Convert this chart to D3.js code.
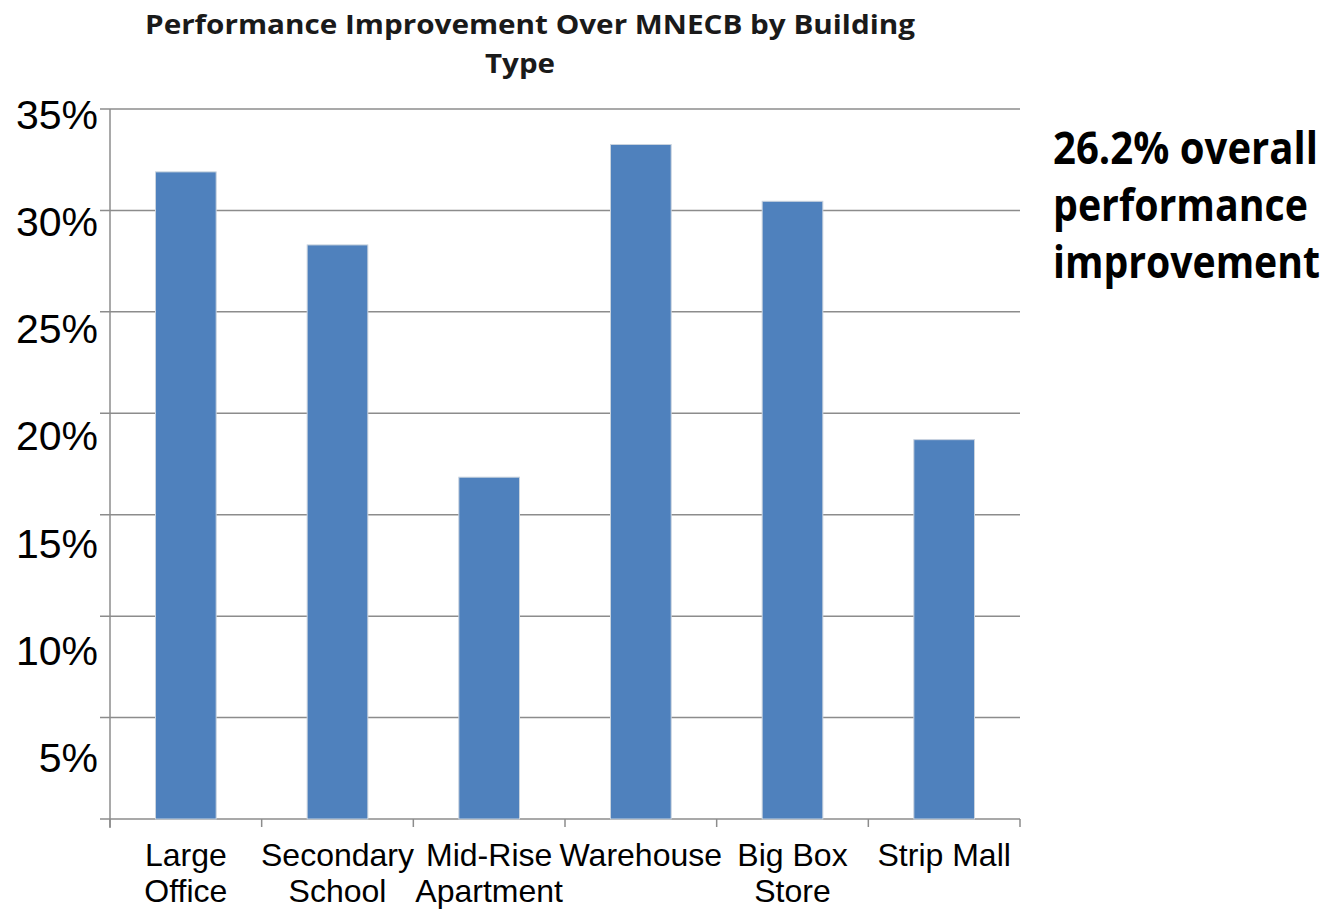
<!DOCTYPE html>
<html>
<head>
<meta charset="utf-8">
<script src="https://cdn.jsdelivr.net/npm/d3@7"></script>
<style>
  body { margin: 0; background: #fff; }
  svg { display: block; }
</style>
</head>
<body>
<div id="chart"></div>
<script>
// Chart data
var categories = [["Large", "Office"], ["Secondary", "School"], ["Mid-Rise", "Apartment"],
                  ["Warehouse"], ["Big Box", "Store"], ["Strip Mall"]];
var improvement = [31.9, 28.3, 16.85, 33.25, 30.45, 18.7];
var yTicks = [0, 5, 10, 15, 20, 25, 30, 35];
var yTickLabels = ["", "5%", "10%", "15%", "20%", "25%", "30%", "35%"];
var titleLines = ["Performance Improvement Over MNECB by Building", "Type"];
var noteLines = ["26.2% overall", "performance", "improvement"];

var width = 1330;
var height = 909;
var plotLeft = 110, plotRight = 1020, plotTop = 109, plotBottom = 819;

var svg = d3.select("#chart")
    .append("svg")
    .attr("width", width)
    .attr("height", height);

var xScale = d3.scaleBand()
    .domain(d3.range(categories.length))
    .range([plotLeft, plotRight])
    .paddingInner(0.6)
    .paddingOuter(0.3);

var yScale = d3.scaleLinear()
    .domain([0, 35])
    .range([plotBottom, plotTop]);

// tick labels in the original sit a little lower than the gridlines
var labelScale = d3.scaleLinear()
    .domain([0, 35])
    .range([866, 115]);

// Gridlines
svg.append("g")
    .attr("class", "grid")
    .selectAll("line")
    .data(yTicks)
    .enter()
    .append("line")
    .attr("x1", plotLeft - 10)
    .attr("x2", plotRight)
    .attr("y1", function(d) { return yScale(d); })
    .attr("y2", function(d) { return yScale(d); })
    .attr("stroke", "#8c8c8c")
    .attr("stroke-width", 1.5);

// Y axis line
svg.append("line")
    .attr("x1", plotLeft).attr("x2", plotLeft)
    .attr("y1", plotTop).attr("y2", plotBottom + 9)
    .attr("stroke", "#8c8c8c")
    .attr("stroke-width", 1.5);

// Y labels
var yAxis = d3.axisLeft(labelScale)
    .tickValues(yTicks.slice(1))
    .tickSize(0)
    .tickPadding(0)
    .tickFormat(function(d) { return yTickLabels[yTicks.indexOf(d)]; });

svg.append("g")
    .attr("transform", "translate(98,0)")
    .call(yAxis)
    .call(function(g) { g.select(".domain").remove(); })
    .selectAll("text")
    .attr("font-family", "'Liberation Sans', Arial, sans-serif")
    .attr("font-size", 41)
    .attr("fill", "#000");

// X axis ticks at band boundaries
var xBounds = d3.range(categories.length + 1).map(function(i) {
    return plotLeft + i * (plotRight - plotLeft) / categories.length;
});
svg.append("g")
    .selectAll("line")
    .data(xBounds)
    .enter()
    .append("line")
    .attr("x1", function(d) { return d; })
    .attr("x2", function(d) { return d; })
    .attr("y1", plotBottom)
    .attr("y2", plotBottom + 8)
    .attr("stroke", "#8c8c8c")
    .attr("stroke-width", 1.5);

// Bars
svg.append("g")
    .selectAll("rect")
    .data(improvement)
    .enter()
    .append("rect")
    .attr("x", function(d, i) { return xScale(i); })
    .attr("y", function(d) { return yScale(d); })
    .attr("width", xScale.bandwidth())
    .attr("height", function(d) { return yScale(0) - yScale(d); })
    .attr("fill", "#4f81bd")
    .attr("stroke", "#c9d3de")
    .attr("stroke-width", 1);

// Category labels
var catLabels = svg.append("g")
    .selectAll("text")
    .data(categories)
    .enter()
    .append("text")
    .attr("x", function(d, i) { return xScale(i) + xScale.bandwidth() / 2; })
    .attr("y", 866)
    .attr("text-anchor", "middle")
    .attr("font-family", "'Liberation Sans', Arial, sans-serif")
    .attr("font-size", 32)
    .attr("fill", "#000");

catLabels.selectAll("tspan")
    .data(function(d) { return d; })
    .enter()
    .append("tspan")
    .attr("x", function() { return d3.select(this.parentNode).attr("x"); })
    .attr("dy", function(d, i) { return i === 0 ? 0 : 36; })
    .text(function(d) { return d; });

// Title
svg.append("text")
    .attr("x", 530)
    .attr("y", 34)
    .attr("text-anchor", "middle")
    .attr("font-family", "'Open Sans', 'Noto Sans', sans-serif")
    .attr("font-weight", "bold")
    .attr("font-size", 27)
    .attr("fill", "#1a1a1a")
    .attr("textLength", 770)
    .attr("lengthAdjust", "spacingAndGlyphs")
    .text(titleLines[0]);

svg.append("text")
    .attr("x", 520)
    .attr("y", 73)
    .attr("text-anchor", "middle")
    .attr("font-family", "'Open Sans', 'Noto Sans', sans-serif")
    .attr("font-weight", "bold")
    .attr("font-size", 27)
    .attr("fill", "#1a1a1a")
    .attr("textLength", 70)
    .attr("lengthAdjust", "spacingAndGlyphs")
    .text(titleLines[1]);

// Side note (slightly stretched vertically, like the narrow original font)
var noteWidths = [265, 255, 267];
svg.append("g")
    .selectAll("g")
    .data(noteLines)
    .enter()
    .append("g")
    .attr("transform", function(d, i) {
        return "translate(1053," + (164 + i * 57) + ") scale(1,1.15)";
    })
    .append("text")
    .attr("font-family", "'Open Sans', 'Noto Sans', sans-serif")
    .attr("font-weight", "bold")
    .attr("font-size", 39)
    .attr("fill", "#000")
    .attr("textLength", function(d, i) { return noteWidths[i]; })
    .attr("lengthAdjust", "spacingAndGlyphs")
    .text(function(d) { return d; });
</script>
</body>
</html>
